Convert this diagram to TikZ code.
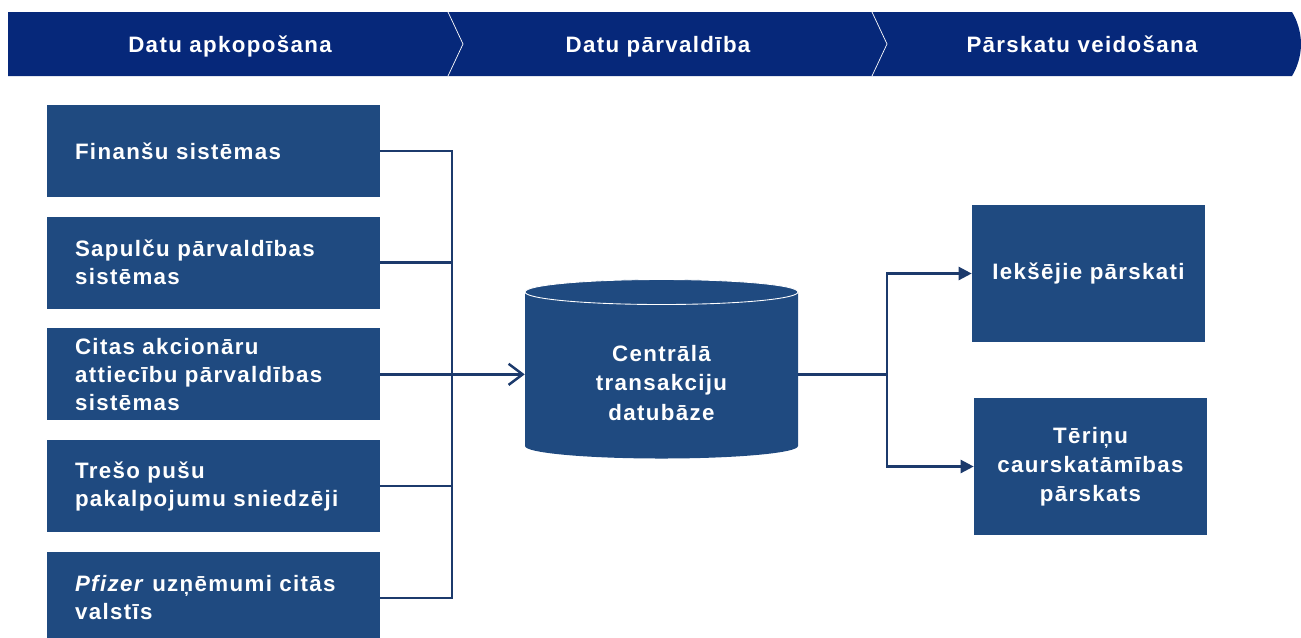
\documentclass[tikz,border=0pt]{standalone}
\usepackage{fontspec}
\setmainfont{Liberation Sans}[LetterSpace=6]
\usetikzlibrary{positioning,arrows.meta}
\definecolor{bannerblue}{HTML}{06287A}
\definecolor{boxblue}{HTML}{1F4A80}
\definecolor{linkblue}{HTML}{1C3A6C}
\begin{document}
\begin{tikzpicture}[x=0.02cm,y=-0.02cm,
		font=\fontsize{12.7}{16}\selectfont\bfseries,
		srcbox/.style={fill=boxblue,text=white,text width=5.54cm,inner xsep=0.56cm,inner ysep=0pt,minimum height=1.84cm,align=left},
		repbox/.style={fill=boxblue,text=white,text width=4.2cm,inner xsep=0.23cm,minimum height=2.74cm,align=center,font=\fontsize{12.7}{16.5}\selectfont\bfseries},
		dbtext/.style={text=white,minimum width=5.46cm,inner xsep=0pt,align=center,font=\fontsize{12.7}{17}\selectfont\bfseries},
		stage/.style={text=white,anchor=base},
		link/.style={draw=linkblue,line width=1.4pt},
		node distance=0.38cm]
					\useasboundingbox (0,0) rectangle (1301,637);

					% Draw the banner
					\fill [bannerblue] (8,12) -- (1292,12) .. controls (1297,20) and (1301,32) .. (1301,44) .. controls (1301,56) and (1297,68) .. (1292,76) -- (8,76) -- cycle;
					\draw [white,thin] (448,12) -- (463,44) -- (448,76);
					\draw [white,thin] (872,12) -- (887,44) -- (872,76);
					\node [stage] (collect) at (230,52) {Datu apkopošana};
					\node [stage] (manage) at (658,52) {Datu pārvaldība};
					\node [stage] (report) at (1082,52) {Pārskatu veidošana};

					% Draw the sources
					\node [srcbox] (fin) at (213.5,151) {Finanšu sistēmas};
					\node [srcbox,below=of fin] (sap) {Sapulču pārvaldības\\sistēmas};
					\node [srcbox,below=of sap] (cit) {Citas akcionāru\\attiecību pārvaldības\\sistēmas};
					\node [srcbox,below=of cit] (tre) {Trešo pušu\\pakalpojumu sniedzēji};
					\node [srcbox,below=of tre] (pfi) {\textit{Pfizer} uzņēmumi citās\\valstīs};

					% Draw the database
					\fill [boxblue] (525,292) -- (525,446) arc [start angle=180,end angle=0,x radius=136.5,y radius=12.5] -- (798,292) -- cycle;
					\draw [white,fill=boxblue,line width=0.5pt] (661.5,292) ellipse [x radius=136.5,y radius=12.5];
					\node [dbtext] (db) at (661.5,383) {Centrālā\\transakciju\\datubāze};

					% Draw the reports
					\node [repbox] (int) at (1088.5,273.5) {Iekšējie pārskati};
					\node [repbox] (ter) at (1090.5,466.5) {Tēriņu\\caurskatāmības\\pārskats};

					% Draw the connectors
					\coordinate (bus) at (cit.east -| 452,0);
					\coordinate (fork) at (cit.east -| 887,0);
					\draw [link] (fin.east) -| (bus);
					\draw [link] (sap.east) -| (bus);
					\draw [link] (tre.east) -| (bus);
					\draw [link] (pfi.east) -| (bus);
					\draw [link,-{Straight Barb[length=8pt,width=12pt]}] (cit.east) -- (cit.east -| db.west);
					\draw [link] (cit.east -| db.east) -- (fork);
					\draw [link,-{Triangle[length=7.5pt,width=7.5pt]}] (fork) |- (int.west);
					\draw [link,-{Triangle[length=7.5pt,width=7.5pt]}] (fork) |- (ter.west);
\end{tikzpicture}
\end{document}
